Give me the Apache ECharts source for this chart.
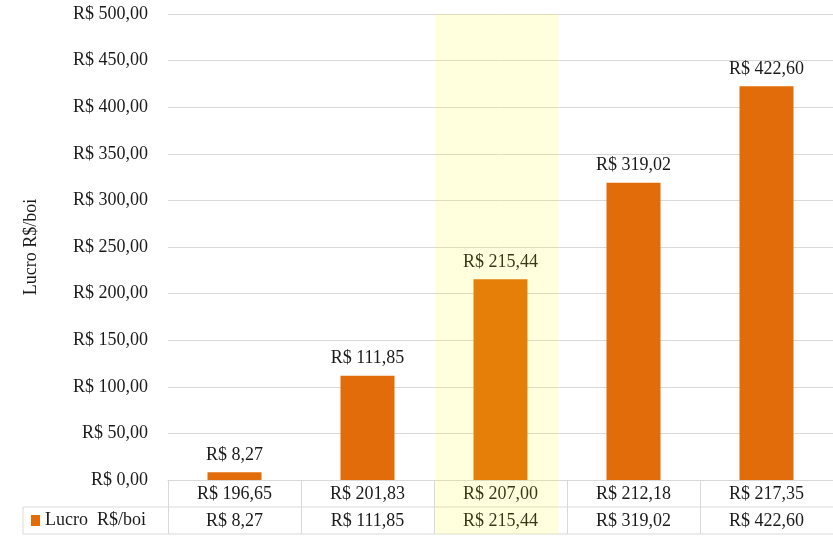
<!DOCTYPE html>
<html>
<head>
<meta charset="utf-8">
<script src="https://cdn.jsdelivr.net/npm/echarts@6/dist/echarts.min.js"></script>
<style>
  html, body { margin: 0; padding: 0; background: #fff; }
  #chart { width: 833px; height: 536px; }
</style>
</head>
<body>
<div id="chart"></div>
<script>
// dados do gráfico
var precos = [196.65, 201.83, 207.00, 212.18, 217.35]; // linha 1 da tabela (eixo x)
var lucro = [8.27, 111.85, 215.44, 319.02, 422.60];    // Lucro R$/boi
var nomeEixo = 'Lucro R$/boi';
var nomeLegenda = 'Lucro  R$/boi';
var destaque = 2; // coluna destacada em amarelo

var fonte = '"Liberation Serif", "DejaVu Serif", serif';
var corBarra = '#E36C0A';
var corLinha = '#d9d9d9';
var corTexto = '#1a1a1a';

function moeda(v) {
  return 'R$\u00a0' + Number(v).toFixed(2).replace('.', ',');
}

var chart = echarts.init(document.getElementById('chart'), null, { renderer: 'canvas' });

chart.setOption({
  animation: false,
  grid: { left: 168, right: 0, top: 14, bottom: 56 },
  xAxis: [{
    type: 'category',
    data: precos.map(moeda),
    axisLine: { show: true, lineStyle: { color: corLinha, width: 1 } },
    axisTick: { show: true, length: 54, interval: 0, alignWithLabel: false, lineStyle: { color: corLinha } },
    axisLabel: { interval: 0, margin: 5, color: corTexto, fontFamily: fonte, fontSize: 18 }
  }, {
    type: 'category',
    position: 'bottom',
    offset: 27,
    data: lucro.map(moeda),
    axisLine: { show: false },
    axisTick: { show: false },
    axisLabel: { interval: 0, margin: 5, color: corTexto, fontFamily: fonte, fontSize: 18 }
  }],
  yAxis: {
    type: 'value',
    min: 0,
    max: 500,
    interval: 50,
    name: nomeEixo,
    nameLocation: 'middle',
    nameGap: 128,
    nameTextStyle: { color: corTexto, fontFamily: fonte, fontSize: 18 },
    axisLine: { show: false },
    axisTick: { show: false },
    splitLine: { lineStyle: { color: corLinha } },
    axisLabel: { margin: 20, color: corTexto, fontFamily: fonte, fontSize: 18, formatter: moeda }
  },
  series: [{
    name: nomeEixo,
    type: 'bar',
    barWidth: 54,
    data: lucro,
    itemStyle: { color: corBarra },
    label: {
      show: true,
      position: 'top',
      distance: 8,
      color: corTexto,
      fontFamily: fonte,
      fontSize: 18,
      formatter: function (p) { return moeda(p.value); }
    }
  }]
});

// tabela de dados e faixa destacada
var x0 = chart.convertToPixel({ xAxisIndex: 0 }, 0);
var x1 = chart.convertToPixel({ xAxisIndex: 0 }, 1);
var larg = x1 - x0;
var esq = x0 - larg / 2;
var dir = esq + larg * precos.length;
var yBase = chart.convertToPixel({ yAxisIndex: 0 }, 0);
var yTopo = chart.convertToPixel({ yAxisIndex: 0 }, 500);
var linha = 27;
var xLeg = 23;
var xDest = chart.convertToPixel({ xAxisIndex: 0 }, destaque);

chart.setOption({
  graphic: [
    { type: 'line', shape: { x1: xLeg, y1: yBase + linha, x2: dir, y2: yBase + linha }, style: { stroke: corLinha, lineWidth: 1 }, silent: true },
    { type: 'line', shape: { x1: xLeg, y1: yBase + 2 * linha, x2: dir, y2: yBase + 2 * linha }, style: { stroke: corLinha, lineWidth: 1 }, silent: true },
    { type: 'line', shape: { x1: xLeg, y1: yBase + linha, x2: xLeg, y2: yBase + 2 * linha }, style: { stroke: corLinha, lineWidth: 1 }, silent: true },
    { type: 'rect', shape: { x: xLeg + 8, y: yBase + linha + 8, width: 9, height: 11 }, style: { fill: corBarra }, silent: true },
    { type: 'text', x: xLeg + 22, y: yBase + linha * 1.5, style: { text: nomeLegenda, fill: corTexto, font: '18px ' + fonte, textVerticalAlign: 'middle' }, silent: true },
    { type: 'rect', z: 100, shape: { x: xDest - 65, y: yTopo, width: 123, height: yBase + 2 * linha - yTopo }, style: { fill: 'rgba(255,255,0,0.13)' }, silent: true }
  ]
});
</script>
</body>
</html>
